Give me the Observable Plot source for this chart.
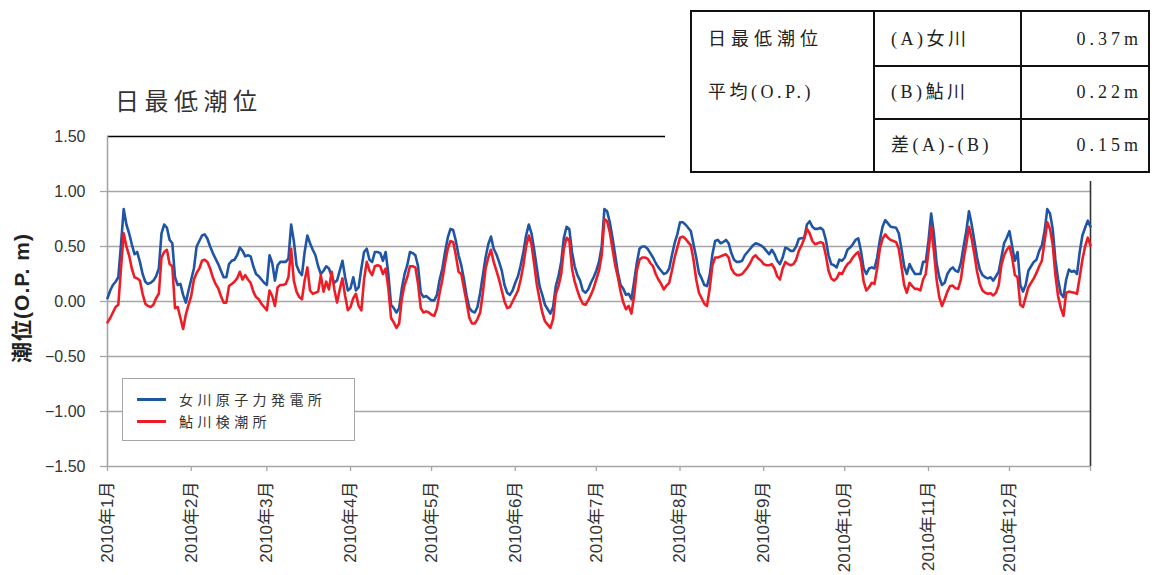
<!DOCTYPE html>
<html><head><meta charset="utf-8">
<script src="https://cdn.jsdelivr.net/npm/d3@7"></script>
<script src="https://cdn.jsdelivr.net/npm/@observablehq/plot@0.6"></script>
<style>
body{margin:0;background:#fff;}
#wrap{position:relative;width:1156px;height:575px;overflow:hidden;font-family:"Noto Sans CJK JP",sans-serif;color:#333;}
#chart{position:absolute;left:0;top:0;}
#title{position:absolute;left:115px;top:86px;font-size:24px;line-height:28px;letter-spacing:5.5px;color:#333;white-space:nowrap;}
#ylabel{position:absolute;left:20px;top:298px;transform:translate(-50%,-50%) rotate(-90deg);font-family:"Liberation Sans","Noto Sans CJK JP",sans-serif;font-weight:bold;font-size:21px;letter-spacing:1px;white-space:nowrap;color:#222;}
#legend{position:absolute;left:122px;top:378px;width:231px;height:61px;border:1px solid #a6a6a6;background:#fff;}
.li{position:absolute;left:14px;height:20px;display:flex;align-items:center;white-space:nowrap;}
.li .sw{width:29px;height:3px;margin-right:13px;}
.li span{font-size:14px;letter-spacing:4.4px;color:#333;}
#cover{position:absolute;left:665px;top:0;width:491px;height:181px;background:#fff;}
#stats{position:absolute;left:690px;top:10px;width:456px;height:159px;border:2px solid #111;background:#fff;font-family:"Liberation Serif","Noto Sans CJK JP",serif;font-size:18px;color:#222;}
#stats .vl{position:absolute;top:0;bottom:0;width:2px;background:#111;}
#stats .hl{position:absolute;left:181px;right:0;height:2px;background:#111;}
#stats .t{position:absolute;white-space:nowrap;letter-spacing:3.5px;line-height:20px;transform:translateY(-50%);}
</style></head><body>
<div id="wrap">
  <div id="chart"></div>
  <div id="title"></div>
  <div id="ylabel"></div>
  <div id="legend"></div>
  <div id="cover"></div>
  <div id="stats"></div>
</div>
<script>
// ---- data ----
const chartTitle = "日最低潮位";
const yLabel = "潮位(O.P. m)";
const seriesNames = ["女川原子力発電所", "鮎川検潮所"];
const seriesColors = ["#1f55a5", "#ee1c25"];
const yTicks = [1.5, 1.0, 0.5, 0.0, -0.5, -1.0, -1.5];
const monthTicks = ["2010-01-01","2010-02-01","2010-03-01","2010-04-01","2010-05-01","2010-06-01","2010-07-01","2010-08-01","2010-09-01","2010-10-01","2010-11-01","2010-12-01"];
const tableHeader = ["日最低潮位", "平均(O.P.)"];
const tableLabels = ["(A)女川", "(B)鮎川", "差(A)-(B)"];
const tableValues = ["0.37m", "0.22m", "0.15m"];

// daily lowest tide, 2010-01-01 .. 2010-12-31 (m, O.P.)
const onagawa = [
0.03,0.10,0.15,0.18,0.22,0.52,0.84,0.70,0.62,0.52,
0.43,0.45,0.36,0.25,0.18,0.16,0.17,0.19,0.23,0.30,
0.62,0.70,0.67,0.56,0.53,0.22,0.15,0.16,0.06,-0.01,
0.10,0.20,0.30,0.50,0.55,0.60,0.61,0.57,0.50,0.44,
0.39,0.34,0.28,0.22,0.22,0.34,0.37,0.38,0.42,0.49,
0.46,0.41,0.42,0.41,0.32,0.25,0.23,0.20,0.17,0.15,
0.42,0.35,0.19,0.33,0.36,0.36,0.36,0.39,0.70,0.55,
0.33,0.27,0.24,0.45,0.60,0.53,0.47,0.42,0.32,0.25,
0.28,0.32,0.30,0.23,0.17,0.19,0.28,0.37,0.22,0.10,
0.12,0.22,0.10,0.13,0.30,0.45,0.48,0.38,0.36,0.45,
0.45,0.44,0.37,0.45,0.25,-0.03,-0.06,-0.10,-0.06,0.12,
0.25,0.33,0.45,0.44,0.42,0.32,0.08,0.04,0.05,0.03,
0.01,0.01,0.06,0.20,0.30,0.45,0.58,0.66,0.65,0.55,
0.42,0.33,0.20,0.05,-0.06,-0.09,-0.10,-0.05,0.08,0.24,
0.40,0.52,0.59,0.48,0.43,0.36,0.28,0.15,0.08,0.06,
0.10,0.17,0.23,0.33,0.45,0.60,0.70,0.62,0.47,0.30,
0.14,0.06,-0.03,-0.07,-0.11,-0.05,0.14,0.23,0.36,0.58,
0.68,0.66,0.45,0.32,0.24,0.19,0.10,0.08,0.11,0.17,
0.22,0.28,0.36,0.50,0.84,0.82,0.72,0.58,0.42,0.26,
0.15,0.115,0.06,0.07,0.02,0.18,0.35,0.48,0.50,0.50,
0.48,0.44,0.40,0.35,0.31,0.28,0.25,0.26,0.30,0.42,
0.53,0.61,0.72,0.72,0.70,0.67,0.64,0.52,0.40,0.26,
0.21,0.15,0.14,0.24,0.43,0.55,0.56,0.53,0.54,0.56,
0.53,0.44,0.38,0.36,0.36,0.37,0.42,0.45,0.48,0.51,
0.53,0.52,0.51,0.49,0.46,0.43,0.47,0.43,0.37,0.34,
0.40,0.49,0.48,0.46,0.46,0.50,0.57,0.575,0.58,0.70,
0.73,0.68,0.66,0.66,0.67,0.65,0.56,0.42,0.34,0.33,
0.31,0.38,0.37,0.40,0.47,0.49,0.52,0.56,0.575,0.46,
0.30,0.25,0.30,0.31,0.30,0.40,0.56,0.68,0.74,0.71,
0.68,0.675,0.67,0.62,0.48,0.32,0.25,0.34,0.29,0.25,
0.25,0.25,0.36,0.36,0.55,0.80,0.62,0.35,0.22,0.15,
0.17,0.25,0.29,0.31,0.28,0.27,0.35,0.50,0.64,0.82,
0.70,0.55,0.40,0.29,0.24,0.22,0.21,0.22,0.19,0.23,
0.27,0.40,0.53,0.58,0.64,0.50,0.37,0.45,0.15,0.09,
0.15,0.28,0.32,0.36,0.38,0.46,0.51,0.64,0.84,0.80,
0.66,0.38,0.20,0.07,0.04,0.20,0.29,0.27,0.28,0.25,
0.45,0.60,0.67,0.735,0.68
];
const ayukawa = [
-0.19,-0.15,-0.10,-0.05,-0.03,0.30,0.62,0.50,0.42,0.30,
0.22,0.21,0.19,0.07,-0.02,-0.04,-0.05,-0.03,0.03,0.07,
0.40,0.45,0.47,0.34,0.32,-0.06,-0.05,-0.15,-0.25,-0.12,
-0.03,0.05,0.20,0.26,0.30,0.37,0.38,0.36,0.30,0.22,
0.16,0.12,0.05,-0.01,-0.01,0.14,0.16,0.18,0.21,0.27,
0.20,0.24,0.20,0.17,0.09,0.04,0.02,-0.02,-0.05,-0.08,
0.10,0.05,-0.04,0.13,0.15,0.15,0.16,0.22,0.48,0.19,
0.09,0.04,0.02,0.19,0.31,0.10,0.07,0.08,0.09,0.24,
0.09,0.18,0.11,0.27,0.11,-0.01,0.11,0.21,0.05,-0.08,
-0.05,0.03,0.07,-0.04,-0.08,0.20,0.36,0.28,0.24,0.32,
0.33,0.32,0.25,0.30,0.12,-0.15,-0.19,-0.24,-0.20,0.03,
0.15,0.22,0.32,0.32,0.31,0.16,-0.06,-0.10,-0.09,-0.10,
-0.12,-0.13,-0.06,0.08,0.20,0.35,0.48,0.55,0.54,0.42,
0.27,0.25,0.12,-0.01,-0.15,-0.20,-0.20,-0.16,-0.10,0.08,
0.30,0.40,0.47,0.36,0.28,0.20,0.10,0.00,-0.06,-0.05,
0.00,0.05,0.10,0.20,0.33,0.50,0.60,0.52,0.34,0.15,
0.02,-0.10,-0.18,-0.21,-0.24,-0.16,0.07,0.14,0.25,0.48,
0.58,0.56,0.30,0.18,0.10,0.03,-0.02,-0.03,0.01,0.06,
0.12,0.20,0.28,0.42,0.75,0.73,0.63,0.48,0.33,0.22,
0.09,-0.01,-0.07,-0.04,-0.11,0.05,0.28,0.38,0.40,0.40,
0.39,0.35,0.32,0.25,0.20,0.16,0.11,0.145,0.17,0.28,
0.40,0.49,0.58,0.59,0.57,0.54,0.51,0.38,0.20,0.08,
0.03,-0.02,-0.04,0.12,0.33,0.40,0.40,0.41,0.42,0.43,
0.40,0.30,0.26,0.24,0.24,0.25,0.28,0.31,0.35,0.40,
0.42,0.39,0.37,0.34,0.33,0.33,0.34,0.30,0.23,0.20,
0.30,0.36,0.34,0.33,0.34,0.38,0.46,0.51,0.57,0.66,
0.62,0.55,0.52,0.53,0.54,0.53,0.42,0.28,0.21,0.19,
0.21,0.26,0.25,0.30,0.34,0.36,0.40,0.43,0.45,0.36,
0.18,0.10,0.13,0.17,0.16,0.30,0.48,0.57,0.61,0.58,
0.56,0.55,0.54,0.48,0.32,0.15,0.08,0.17,0.14,0.115,
0.115,0.10,0.20,0.25,0.45,0.68,0.46,0.20,0.04,-0.04,
0.02,0.09,0.14,0.145,0.12,0.115,0.20,0.38,0.52,0.68,
0.57,0.43,0.27,0.16,0.10,0.08,0.07,0.075,0.055,0.08,
0.15,0.33,0.42,0.47,0.50,0.40,0.24,0.22,-0.03,-0.05,
0.04,0.13,0.17,0.21,0.26,0.32,0.37,0.55,0.72,0.66,
0.52,0.24,0.05,-0.06,-0.13,0.08,0.09,0.085,0.08,0.07,
0.22,0.38,0.50,0.58,0.51
];

// ---- build ----
const startDate = new Date(Date.UTC(2010, 0, 1));
const endDate = new Date(Date.UTC(2010, 11, 31));
const day = i => new Date(Date.UTC(2010, 0, 1 + i));
const rowsA = onagawa.map((v, i) => ({date: day(i), v, s: seriesNames[0]}));
const rowsB = ayukawa.map((v, i) => ({date: day(i), v, s: seriesNames[1]}));
const xTicks = monthTicks.map(s => new Date(s + "T00:00:00Z")).concat([endDate]);
const xFmt = d => (d.getTime() === endDate.getTime()) ? "" : `${d.getUTCFullYear()}年${d.getUTCMonth() + 1}月`;
const gray = "#a6a6a6";

const chart = Plot.plot({
  width: 1156, height: 575,
  marginTop: 136, marginRight: 66, marginBottom: 109, marginLeft: 107,
  style: {fontFamily: "'Liberation Sans', Arial, 'Noto Sans CJK JP', sans-serif", fontSize: "16px", color: "#333", background: "transparent"},
  x: {type: "utc", domain: [startDate, endDate]},
  y: {domain: [-1.5, 1.5]},
  marks: [
    Plot.gridY(yTicks.filter(t => t < 1.5 && t > -1.5), {stroke: gray, strokeOpacity: 1, strokeWidth: 1.3}),
    Plot.ruleY([1.5], {stroke: "#000", strokeWidth: 1.3}),
    Plot.ruleX([endDate], {stroke: "#333", strokeWidth: 1.6}),
    Plot.ruleX([startDate], {stroke: gray, strokeWidth: 1.6}),
    Plot.ruleY([-1.5], {stroke: gray, strokeWidth: 1.6}),
    Plot.axisY(yTicks.filter(t => t < 1.5), {tickSize: 7, tickFormat: () => "", stroke: gray, strokeWidth: 1.3, label: null}),
    Plot.axisY(yTicks, {tickSize: 0, tickPadding: 22, tickFormat: d3.format(".2f"), fill: "#333", fontSize: 16, label: null}),
    Plot.axisX(xTicks, {tickSize: 5, tickPadding: 10, tickRotate: -90, textAnchor: "end", tickFormat: xFmt, stroke: gray, strokeWidth: 1.3, fill: "#333", fontSize: 17, label: null}),
    Plot.line(rowsA, {x: "date", y: "v", stroke: seriesColors[0], strokeWidth: 2.6}),
    Plot.line(rowsB, {x: "date", y: "v", stroke: seriesColors[1], strokeWidth: 2.6})
  ]
});
document.getElementById("chart").appendChild(chart);

document.getElementById("title").textContent = chartTitle;
document.getElementById("ylabel").textContent = yLabel;

const legend = document.getElementById("legend");
seriesNames.forEach((n, i) => {
  const d = document.createElement("div");
  d.className = "li";
  d.style.top = (10 + i * 22) + "px";
  d.innerHTML = `<div class="sw" style="background:${seriesColors[i]}"></div><span>${n}</span>`;
  legend.appendChild(d);
});

const st = document.getElementById("stats");
function add(cls, css, text) {
  const e = document.createElement("div");
  e.className = cls;
  Object.assign(e.style, css);
  if (text != null) e.textContent = text;
  st.appendChild(e);
  return e;
}
add("vl", {left: "181px"});
add("vl", {left: "328px"});
add("hl", {top: "53px"});
add("hl", {top: "106px"});
add("t", {left: "16px", top: "27px", letterSpacing: "5px"}, tableHeader[0]);
add("t", {left: "16px", top: "80px"}, tableHeader[1]);
tableLabels.forEach((t, i) => {
  add("t", {left: "199px", top: (27 + i * 53) + "px"}, t);
  add("t", {right: "6px", top: (27 + i * 53) + "px", letterSpacing: "4px"}, tableValues[i]);
});
</script>
</body></html>
